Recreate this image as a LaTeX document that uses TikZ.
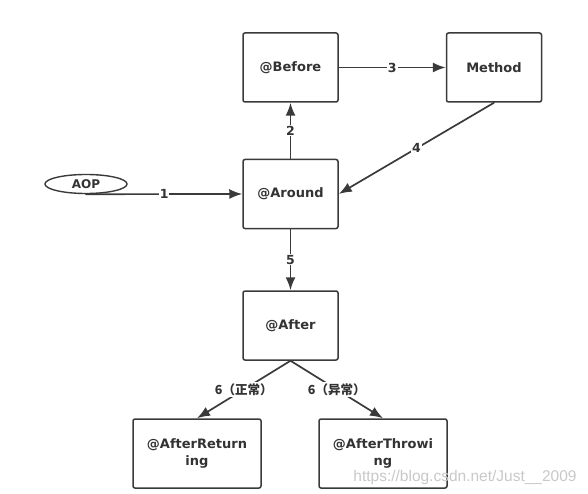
\documentclass[tikz,border=0pt]{standalone}
\usepackage{fontspec}
\setmainfont{DejaVu Sans}
\newfontfamily\cjk{Noto Sans CJK SC}
\newfontfamily\markfont{Liberation Sans}
\usetikzlibrary{arrows.meta,shapes.geometric}

\definecolor{linec}{HTML}{3A3A3A}
\definecolor{textc}{HTML}{333333}
\definecolor{markc}{HTML}{C8C8C8}

\tikzset{
  box/.style={draw=linec,line width=1.5pt,rounded corners=2pt,fill=white,
    minimum width=95pt,minimum height=69pt,align=center,text=textc,
    font=\fontsize{13pt}{17pt}\selectfont\bfseries},
  wide/.style={box,minimum width=128pt},
  oval/.style={ellipse,draw=linec,line width=1.4pt,minimum width=82pt,
    minimum height=19pt,inner sep=0pt,text=textc,
    font=\fontsize{12pt}{14pt}\selectfont\bfseries},
  lbl/.style={fill=white,inner sep=1pt,text=textc,
    font=\fontsize{12.5pt}{14pt}\selectfont\bfseries},
  cjklbl/.style={lbl,font=\cjk\fontsize{12.5pt}{14pt}\selectfont\bfseries},
}

\begin{document}
\begin{tikzpicture}[>={Latex[length=13pt,width=10pt]},
    every edge/.style={draw=linec,line width=1.7pt,line cap=round}]
    \useasboundingbox (0,0) rectangle (588pt,-494pt);
    \node[box]  (before) at (290.5pt,-67.5pt)                       {@Before};
    \node[box]  (method) [right of=before,node distance=203.5pt]    {Method};
    \node[box]  (around) [below of=before,node distance=126.5pt]    {@Around};
    \node[oval] (aop)    [left of=around,node distance=204.5pt,yshift=10pt] {AOP};
    \node[box]  (after)  [below of=around,node distance=131.5pt]    {@After};
    \node[wide] (ret)    [below of=after,node distance=128pt,xshift=-93.5pt] {@AfterReturn\\ing};
    \node[wide] (thr)    [below of=after,node distance=128pt,xshift=92.5pt]  {@AfterThrowi\\ng};
    \node[text=markc,font=\markfont\fontsize{15.5pt}{17pt}\selectfont] (mark) at (465pt,-477pt) {https://blog.csdn.net/Just\_\_2009};

    \path[->]   (aop.south)   edge  node[lbl] {1} (around.west)
                (around)      edge  node[lbl] {2} (before)
                (before)      edge  node[lbl] {3} (method)
                (method.south) edge node[lbl] {4} (around.east)
                (around)      edge  node[lbl] {5} (after)
                (after.south) edge  node[cjklbl] {6（正常）} (ret.north)
                (after.south) edge  node[cjklbl] {6（异常）} (thr.north)
                ;
\end{tikzpicture}
\end{document}
